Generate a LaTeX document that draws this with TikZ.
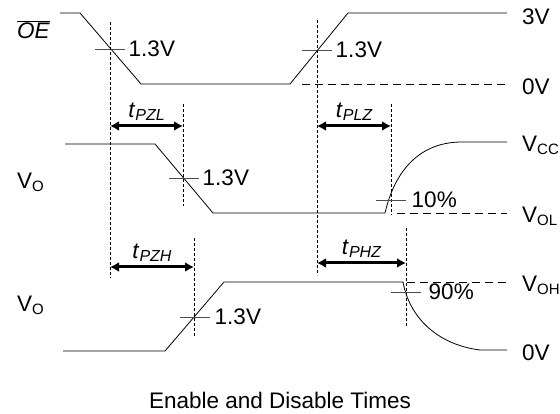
\documentclass[tikz,border=0pt]{standalone}
\usepackage{fontspec}
\setmainfont{Liberation Sans}
\usetikzlibrary{arrows.meta}
\newcommand{\lowsub}[1]{\raisebox{-0.25ex}{\fontsize{15}{15}\selectfont #1}}
\newcommand{\tdelay}[1]{\textit{t}\raisebox{-0.25ex}{\fontsize{16}{16}\selectfont\itshape #1}}
\begin{document}
\begin{tikzpicture}[x=1pt,y=-1pt, line join=round, font=\fontsize{22.5}{26}\selectfont,
    wave/.style={line width=0.8pt},
    tick/.style={line width=0.8pt, draw=black!70},
    guide/.style={line width=0.8pt, dash pattern=on 3pt off 2pt},
    level/.style={line width=0.8pt, dash pattern=on 8pt off 5pt},
    span/.style={{Latex[length=9pt,width=10pt]}-{Latex[length=9pt,width=10pt]}, line width=3pt},
    rlabel/.style={anchor=west, inner sep=0pt}]
    \useasboundingbox (0,0) rectangle (560,414);
    % OE input
    \draw[wave] (60,13) -- (80,13) -- (141,84) -- (290,84) -- (348,13) -- (507,13);
    \draw[level] (302,84) -- (507,84);
    \draw[tick] (95,49) -- (125,49) node[right] (oefall) {1.3V};
    \draw[tick] (302,50) -- (332,50) node[right] (oerise) {1.3V};
    \node[rlabel] (hi) at (522,17) {3V};
    \node[rlabel] (lo) at (522,87) {0V};
    \node[rlabel] (oe) at (17,30) {$\overline{\mbox{\itshape OE}}$};
    % reference lines
    \draw[guide] (110,22) -- (110,278);
    \draw[guide] (317,20) -- (317,275);
    \draw[guide] (183,104) -- (183,206);
    \draw[guide] (391,104) -- (391,215);
    \draw[guide] (194,238) -- (194,337);
    \draw[guide] (406,228) -- (406,326);
    % output, low side
    \draw[wave] (65,144) -- (155,144) -- (213,213) -- (385,213)
        .. controls (395,170) and (420,142) .. (462,142) -- (507,142);
    \draw[level] (397,213) -- (507,213);
    \draw[tick] (169,178) -- (199,178) node[right] (vofall) {1.3V};
    \draw[tick] (376,200) -- (406,200) node[right=2pt] (ten) {10\%};
    \node[rlabel] (vcc) at (522,145) {V\lowsub{CC}};
    \node[rlabel] (vol) at (522,216) {V\lowsub{OL}};
    \node[rlabel] (vo1) at (17,182) {V\lowsub{O}};
    % output, high side
    \draw[wave] (63,351) -- (165,351) -- (224,282) -- (403,282)
        .. controls (410,320) and (440,345) .. (480,350) -- (507,350);
    \draw[level] (407,282) -- (507,282);
    \draw[tick] (180,317) -- (210,317) node[right=1pt] (vorise) {1.3V};
    \draw[tick] (391,292) -- (421,292) node[right=4pt] (ninety) {90\%};
    \node[rlabel] (voh) at (522,285) {V\lowsub{OH}};
    \node[rlabel] (gnd) at (522,353) {0V};
    \node[rlabel] (vo2) at (17,305) {V\lowsub{O}};
    % delays
    \draw[span] (110,126) -- node[above=1pt] (pzl) {\tdelay{PZL}} (183,126);
    \draw[span] (317,126) -- node[above=1pt] (plz) {\tdelay{PLZ}} (391,126);
    \draw[span] (110,267) -- node[above=1pt] (pzh) {\tdelay{PZH}} (194,267);
    \draw[span] (317,263) -- node[above=1pt] (phz) {\tdelay{PHZ}} (406,263);
    \node (title) at (280,400) {Enable and Disable Times};
\end{tikzpicture}
\end{document}
